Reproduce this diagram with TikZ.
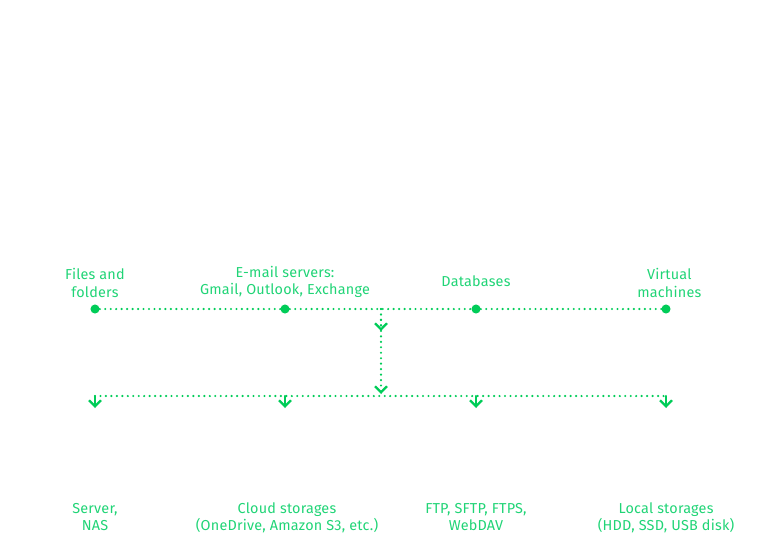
\documentclass[tikz,border=0pt]{standalone}
\usepackage{fontspec}
\setmainfont{Fira Sans}
\usetikzlibrary{arrows.meta, positioning}
\definecolor{vgreen}{RGB}{0,204,88}
\definecolor{vtext}{RGB}{32,212,118}
\tikzstyle{source} = [circle, fill=vgreen, inner sep=0pt, minimum size=6.8pt]
\tikzstyle{srctext} = [align=center, text=vtext, inner sep=0pt,
    font=\fontsize{10.8}{12.9}\selectfont\addfontfeature{LetterSpace=1.5}]
\tikzstyle{dsttext} = [srctext]
\tikzstyle{flow} = [vgreen, line width=1.8pt, line cap=round,
    dash pattern=on 0pt off 4.1pt]
\tikzstyle{arrow} = [flow, -{Straight Barb[length=4.6pt, width=9pt, line width=1.7pt]}]
\tikzstyle{stub} = [arrow, solid, line width=1.6pt]

\begin{document}
\begin{tikzpicture}[x=0.75pt, y=-0.75pt]
            \useasboundingbox (0,0) rectangle (763,547);
            % Sources
            \node[source] (files) at (95,309) {};
            \node[source] (email) at (285,309) {};
            \node[source] (db) at (476,309) {};
            \node[source] (vm) at (666,309) {};
            \node[srctext, above=5pt of files] (files-t) {Files and\\folders};
            \node[srctext, above=5pt of email] (email-t) {E-mail servers:\\Gmail, Outlook, Exchange};
            \node[srctext, above=13pt of db] (db-t) {Databases};
            \node[srctext, above=5pt of vm, xshift=2.5pt] (vm-t) {Virtual\\machines};
            % Junctions
            \coordinate (split) at (381,309);
            \coordinate (join) at (381,396);
            \coordinate (server-in) at (95,396);
            \coordinate (cloud-in) at (285,396);
            \coordinate (ftp-in) at (476,396);
            \coordinate (local-in) at (666,396);
            % Targets
            \node[dsttext, below=80pt of server-in] (server) {Server,\\NAS};
            \node[dsttext, below=80pt of cloud-in, xshift=1.5pt] (cloud) {Cloud storages\\(OneDrive, Amazon S3, etc.)};
            \node[dsttext, below=80pt of ftp-in] (ftp) {FTP, SFTP, FTPS,\\WebDAV};
            \node[dsttext, below=80pt of local-in] (local) {Local storages\\(HDD, SSD, USB disk)};
            % Lines
            \draw[flow] (files) -- (email);
            \draw[flow] (email) -- (db);
            \draw[flow] (db) -- (vm);
            \draw[flow] (server-in) -- (local-in);
            \draw[arrow] (split) -- ++(0,22);
            \draw[arrow, shorten >=1.5pt] (split) -- (join);
            \draw[stub] (server-in) -- ++(0,12);
            \draw[stub] (cloud-in) -- ++(0,12);
            \draw[stub] (ftp-in) -- ++(0,12);
            \draw[stub] (local-in) -- ++(0,12);
        \end{tikzpicture}
\end{document}
